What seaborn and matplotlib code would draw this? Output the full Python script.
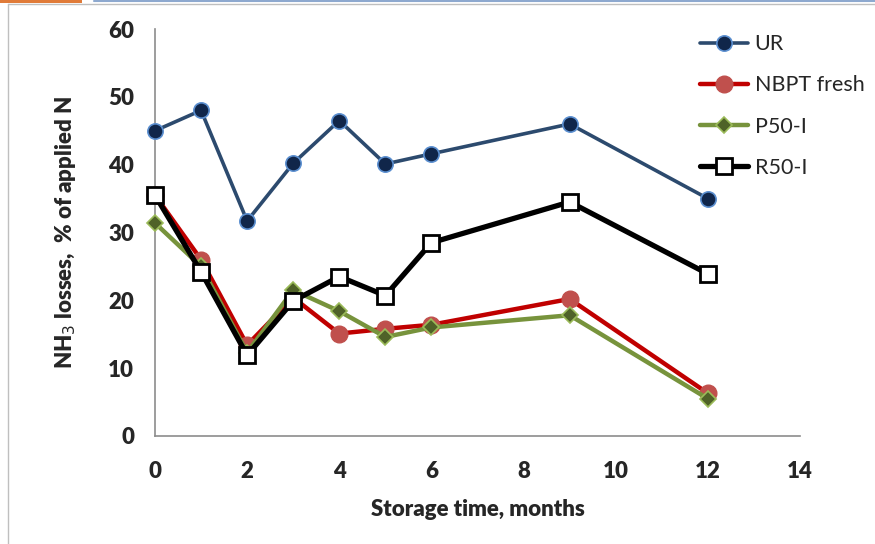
import matplotlib
matplotlib.use("Agg")
import matplotlib.pyplot as plt
from matplotlib.lines import Line2D
from matplotlib.patches import Rectangle
import seaborn as sns
import pandas as pd

months = [0, 1, 2, 3, 4, 5, 6, 9, 12]
ur = [45.0, 48.0, 31.7, 40.2, 46.5, 40.1, 41.6, 46.0, 35.0]
nbpt = [35.5, 26.0, 13.4, 20.4, 15.1, 15.8, 16.4, 20.2, 6.3]
p50 = [31.4, 25.0, 12.3, 21.5, 18.4, 14.6, 16.0, 17.8, 5.5]
r50 = [35.5, 24.2, 11.9, 19.9, 23.5, 20.7, 28.5, 34.5, 23.9]
series_names = ["UR", "NBPT fresh", "P50-I", "R50-I"]
x_ticks = [0, 2, 4, 6, 8, 10, 12, 14]
y_ticks = [0, 10, 20, 30, 40, 50, 60]

sns.set_theme(style="white")
plt.rcParams["font.family"] = ["Lato", "DejaVu Sans"]

fig = plt.figure(figsize=(8.75, 5.44), dpi=100)
ax = fig.add_axes([155/875, 1-436/544, (800-155)/875, (436-29)/544])

styles = {
    "UR": dict(color="#2C4A6E", lw=2.6, marker="o", ms=11, mfc="#10264A", mec="#5B8FD0", mew=1.2),
    "NBPT fresh": dict(color="#C00000", lw=3.2, marker="o", ms=12, mfc="#C0504D", mec="#C0504D", mew=1),
    "P50-I": dict(color="#77933C", lw=3.2, marker="D", ms=8.5, mfc="#4F6228", mec="#9BBB59", mew=1.2),
    "R50-I": dict(color="#000000", lw=3.8, marker="s", ms=12, mfc="white", mec="black", mew=2),
}
values = {"UR": ur, "NBPT fresh": nbpt, "P50-I": p50, "R50-I": r50}
for name in series_names:
    df = pd.DataFrame({"x": months, "y": values[name]})
    st = styles[name]
    sns.lineplot(data=df, x="x", y="y", ax=ax, color=st["color"], linewidth=st["lw"],
                 marker=st["marker"], markersize=st["ms"], markerfacecolor=st["mfc"],
                 markeredgecolor=st["mec"], markeredgewidth=st["mew"], label=name,
                 clip_on=False, zorder=3)

ax.set_xlim(0, 14)
ax.set_ylim(0, 60)
ax.set_xticks(x_ticks)
ax.set_yticks(y_ticks)
ax.tick_params(axis="both", which="both", direction="out", length=6, width=1,
               color="#8C8C8C", labelsize=16)
ax.tick_params(axis="x", pad=12)
ax.tick_params(axis="y", pad=9)
for lab in ax.get_xticklabels() + ax.get_yticklabels():
    lab.set_fontweight("heavy")
for s in ["top", "right"]:
    ax.spines[s].set_visible(False)
for s in ["left", "bottom"]:
    ax.spines[s].set_color("#8C8C8C")
    ax.spines[s].set_linewidth(1.2)
ax.spines["bottom"].set_zorder(1)

ax.set_xlabel("Storage time, months", fontsize=16, fontweight="heavy", labelpad=12)
ax.set_ylabel("NH$_3$ losses,  % of applied N", fontsize=16, fontweight="heavy", labelpad=22)

leg = ax.legend(loc="upper left", bbox_to_anchor=(536/645, 1.008), frameon=False,
                fontsize=15.5, handlelength=2.25, handletextpad=0.3, labelspacing=0.98,
                borderaxespad=0)

# slide frame decorations
fig.add_artist(Rectangle((0, 1-3/544), 82/875, 3/544, transform=fig.transFigure,
                         color="#E07B39", lw=0))
fig.add_artist(Line2D([94/875, 1], [1-1/544, 1-1/544], transform=fig.transFigure,
                      color="#8EA9CF", lw=1.5))
fig.add_artist(Line2D([8/875, 1], [1-3.5/544, 1-3.5/544], transform=fig.transFigure,
                      color="#BFBFBF", lw=1))
fig.add_artist(Line2D([8/875, 8/875], [0, 1-3.5/544], transform=fig.transFigure,
                      color="#BFBFBF", lw=1))

fig.savefig("out.png", dpi=100)
